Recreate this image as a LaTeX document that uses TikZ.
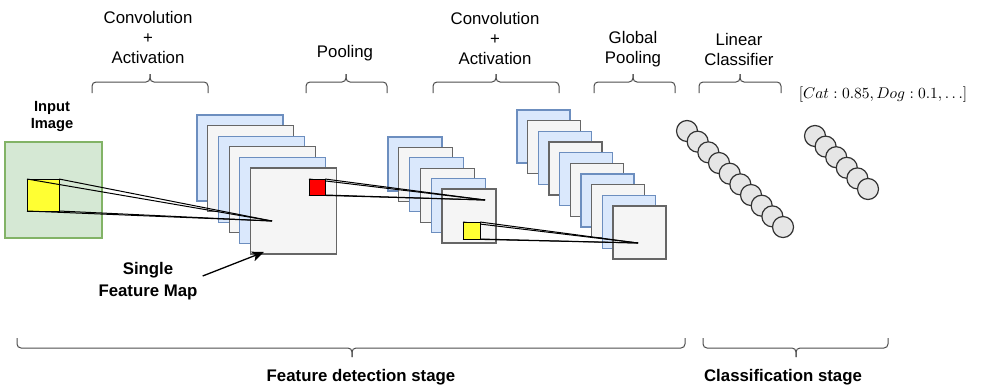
\documentclass[tikz,border=0pt]{standalone}
\usepackage{fontspec}
\setmainfont{Liberation Sans}
\usetikzlibrary{arrows.meta,calc}

\definecolor{mapblue}{HTML}{DAE8FC}
\definecolor{mapblueline}{HTML}{6C8EBF}
\definecolor{mapgray}{HTML}{F5F5F5}
\definecolor{mapgrayline}{HTML}{666666}
\definecolor{imggreen}{HTML}{D5E8D4}
\definecolor{imggreenline}{HTML}{82B366}
\definecolor{patchyellow}{HTML}{FFFF33}
\definecolor{patchred}{HTML}{FF0000}
\definecolor{neuronfill}{HTML}{E6E6E6}
\definecolor{neuronline}{HTML}{333333}
\definecolor{braceline}{HTML}{4D4D4D}

\pgfdeclarelayer{front}
\pgfsetlayers{main,front}

% brace opening downwards onto a layer group (tip up)
\newcommand{\topbrc}[4]{%
  \coordinate (#1) at (#4,74);
  \draw[brc] (#2,93) -- (#2,82) -- (#4,82) -- (#1);
  \draw[brc] (#3,93) -- (#3,82) -- (#4,82) -- (#1);}
% brace under a stage (tip down)
\newcommand{\botbrc}[4]{%
  \coordinate (#1) at (#4,357);
  \draw[brc] (#2,338) -- (#2,348) -- (#4,348) -- (#1);
  \draw[brc] (#3,338) -- (#3,348) -- (#4,348) -- (#1);}

\begin{document}
\begin{tikzpicture}[x=1pt,y=-1pt,
  fmapblue/.style={draw=mapblueline, fill=mapblue, line width=1.1pt,
    inner sep=0pt, outer sep=0pt, anchor=north west},
  fmapgray/.style={draw=mapgrayline, fill=mapgray, line width=1.1pt,
    inner sep=0pt, outer sep=0pt, anchor=north west},
  patch/.style={draw=black, line width=1pt, inner sep=0pt, outer sep=0pt,
    anchor=north west},
  neuron/.style={circle, draw=neuronline, fill=neuronfill, line width=1.2pt,
    minimum size=21pt, inner sep=0pt},
  ray/.style={draw=black, line width=1pt},
  brc/.style={draw=braceline, line width=1pt, rounded corners=4pt},
  lbl/.style={align=center, inner sep=0pt, font=\fontsize{16.8}{20}\selectfont},
  stagelbl/.style={inner sep=0pt, font=\fontsize{16.8}{20}\selectfont\bfseries},
  arr/.style={draw=black, line width=1.3pt,
    -{Stealth[length=12pt, width=10pt, inset=3pt]}}]

\useasboundingbox (0,0) rectangle (981,388);
\fill[white] (0,0) rectangle (981,388);

% input image
\node[draw=imggreenline, fill=imggreen, line width=1.1pt, inner sep=0pt,
  outer sep=0pt, anchor=north west, minimum width=97pt, minimum height=96pt]
  (input) at (5,142) {};
\node[align=center, inner sep=0pt, font=\fontsize{14.7}{17}\selectfont\bfseries]
  (inputlbl) at (52,116) {Input\\Image};

% first convolution block
\foreach \i/\s in {0/fmapblue,1/fmapgray,2/fmapblue,3/fmapgray,4/fmapblue,5/fmapgray}
  \node[\s, minimum width=86pt, minimum height=86pt]
    (s1-\i) at ({197+10.7*\i},{115+10.6*\i}) {};

% pooling block
\foreach \i/\s in {0/fmapblue,1/fmapgray,2/fmapblue,3/fmapgray,4/fmapblue,5/fmapgray}
  \node[\s, minimum width=54pt, minimum height=54pt]
    (s2-\i) at ({388+10.8*\i},{137+10.4*\i}) {};

% second convolution block
\foreach \i/\s in {0/fmapblue,1/fmapgray,2/fmapblue,3/fmapgray,4/fmapblue,
                   5/fmapgray,6/fmapblue,7/fmapgray,8/fmapblue,9/fmapgray}
  \node[\s, minimum width=53pt, minimum height=53pt]
    (s3-\i) at ({517+10.67*\i},{110+10.67*\i}) {};

% hidden and output neurons
\foreach \i in {0,...,9}
  \node[neuron] (h-\i) at ({687+10.67*\i},{131+10.67*\i}) {};
\foreach \i in {0,...,5}
  \node[neuron] (o-\i) at ({815+10.6*\i},{136+10.6*\i}) {};

% receptive field on the input, rays drawn over the patch
\coordinate (apex1) at (272,221);
\node[patch, fill=patchyellow, minimum size=32pt] (patch1) at (27,179) {};
\foreach \c in {north west,north east,south west,south east}
  \draw[ray] (patch1.\c) -- (apex1);

% pooled window, patch kept above its rays
\coordinate (apex2) at (485,200);
\begin{pgfonlayer}{front}
  \node[patch, fill=patchred, minimum size=16pt] (patch2) at (309,179) {};
\end{pgfonlayer}
\foreach \c in {north west,north east,south west,south east}
  \draw[ray] (patch2.\c) -- (apex2);

% window of the second convolution
\coordinate (apex3) at (638,243);
\begin{pgfonlayer}{front}
  \node[patch, fill=patchyellow, minimum size=17pt] (patch3) at (463,222) {};
\end{pgfonlayer}
\foreach \c in {north west,north east,south west,south east}
  \draw[ray] (patch3.\c) -- (apex3);

% single feature map callout
\node[align=center, inner sep=0pt, font=\fontsize{16.8}{22}\selectfont\bfseries]
  (sfm) at (148,281) {Single\\Feature Map};
\coordinate (sfmtip) at (264,252);
\draw[arr] ([xshift=5pt,yshift=5pt]sfm.east) -- (sfmtip);

% layer braces and labels
\topbrc{b1}{92}{208}{150}
\topbrc{b2}{306}{387}{346}
\topbrc{b3}{433}{559}{496}
\topbrc{b4}{594}{675}{633}
\topbrc{b5}{699}{781}{740}

\node[lbl] (conv1) at (148,37) {Convolution\\+\\Activation};
\node[lbl] (pool1) at (345,53) {Pooling};
\node[lbl] (conv2) at (495,38) {Convolution\\+\\Activation};
\node[lbl] (gpool) at (633,49) {Global\\Pooling};
\node[lbl] (lincls) at (739,49) {Linear\\Classifier};

\node[inner sep=0pt, scale=1.55] (probs) at (883,95)
  {$[Cat: 0.85, Dog: 0.1, \dots]$};

% stage braces
\botbrc{f1}{685}{17}{352}
\botbrc{f2}{888}{703}{796}
\node[stagelbl] (featstage) at (361,377) {Feature detection stage};
\node[stagelbl] (clsstage) at (783,377) {Classification stage};

\end{tikzpicture}
\end{document}
